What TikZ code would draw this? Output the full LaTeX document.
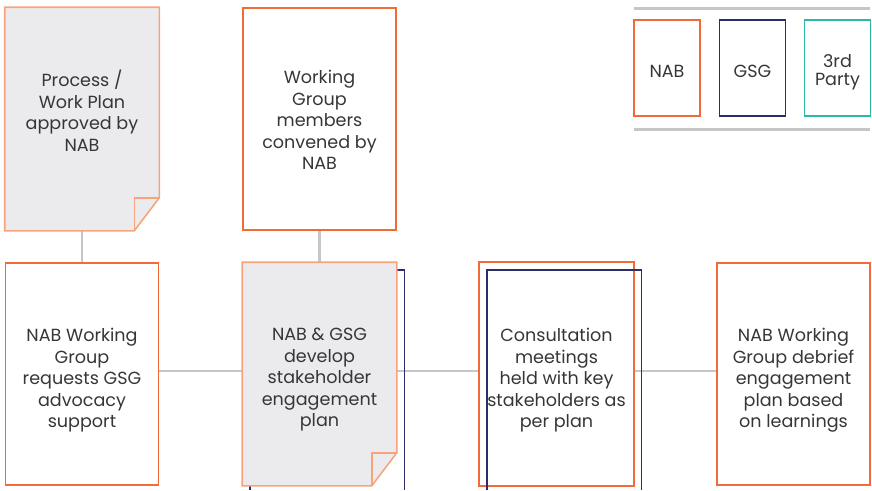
\documentclass[tikz,border=0pt]{standalone}
\usepackage{fontspec}
\setmainfont{Poppins}
\usepackage{tikz}
\usetikzlibrary{calc,positioning}
\definecolor{nabc}{HTML}{F26A35}
\definecolor{nabsoft}{HTML}{F6A47C}
\definecolor{gsgc}{HTML}{2B2E6A}
\definecolor{thirdc}{HTML}{2DB9A5}
\definecolor{pagec}{HTML}{EBEBED}
\definecolor{linkc}{HTML}{C6C6C8}
\definecolor{txtc}{HTML}{363636}
\tikzset{
  step box/.style={rectangle,draw=nabc,line width=0.9pt,minimum width=3.06cm,
    minimum height=4.44cm},
  page/.style={step box,draw=none},
  caption/.style={anchor=north,align=center,text=txtc,font=\fontsize{10}{12.2}\selectfont},
  pageline/.style={draw=nabsoft,line width=0.9pt},
  gsgframe/.style={draw=gsgc,line width=0.9pt},
  link/.style={draw=linkc,line width=1.4pt},
  key/.style={rectangle,line width=0.9pt,minimum width=1.32cm,minimum height=1.92cm},
  keytext/.style={align=center,text=txtc,font=\fontsize{10}{10.4}\selectfont},
}
% page with a folded bottom-right corner
\newcommand{\foldpage}[1]{%
  \fill[pagec] (#1.north west) -- (#1.north east) -- ([yshift=0.66cm]#1.south east)
    -- ([xshift=-0.5cm]#1.south east) -- (#1.south west) -- cycle;
  \draw[pageline] (#1.north west) -- (#1.north east) -- ([yshift=0.66cm]#1.south east)
    -- ([xshift=-0.5cm]#1.south east) -- (#1.south west) -- cycle;
  \draw[pageline] ([xshift=-0.5cm]#1.south east) -- ([xshift=-0.5cm,yshift=0.66cm]#1.south east)
    -- ([yshift=0.66cm]#1.south east);
}
% navy frame sitting behind a step, running off the bottom edge
\newcommand{\gsgback}[1]{%
  \draw[gsgframe] ([xshift=0.15cm]#1.south west |- 0,-9.8) -- ([xshift=0.15cm,yshift=-0.15cm]#1.north west)
    -- ([xshift=0.15cm,yshift=-0.15cm]#1.north east) -- ([xshift=0.15cm]#1.south east |- 0,-9.8);
}

\begin{document}
\begin{tikzpicture}
  \useasboundingbox (0,0) rectangle (17.44,-9.8);

  % top row
  \node[page] (plan) at (1.64,-2.38) {};
  \node[step box] (convene) at (6.39,-2.38) {};

  % bottom row
  \node[step box] (request) at (1.64,-7.48) {};
  \node[page] (develop) at (6.39,-7.48) {};
  \node[step box,draw=none] (consult) at (11.13,-7.48) {};
  \node[step box] (debrief) at (15.87,-7.48) {};

  % connectors
  \draw[link] (plan.south) -- (request.north);
  \draw[link] (convene.south) -- (develop.north);
  \draw[link] ([yshift=0.06cm]request.east) -- ([yshift=0.06cm]develop.west);
  \draw[link] ([yshift=0.06cm]develop.east) -- ([yshift=0.06cm]consult.west);
  \draw[link] ([yshift=0.06cm]consult.east) -- ([yshift=0.06cm]debrief.west);

  \gsgback{develop}
  \foldpage{plan}
  \foldpage{develop}
  \draw[draw=nabc,line width=0.9pt] (consult.north west) rectangle (consult.south east);
  \gsgback{consult}

  % step texts
  \node[caption] (plan-t) at ([yshift=-1.14cm]plan.north) {Process /\\Work Plan\\approved by\\NAB};
  \node[caption] (convene-t) at ([yshift=-1.14cm]convene.north) {Working\\Group\\members\\convened by\\NAB};
  \node[caption] (request-t) at ([yshift=-1.2cm]request.north) {NAB Working\\Group\\requests GSG\\advocacy\\support};
  \node[caption] (develop-t) at ([yshift=-1.2cm]develop.north) {NAB \& GSG\\develop\\stakeholder\\engagement\\plan};
  \node[caption] (consult-t) at ([yshift=-1.2cm]consult.north) {Consultation\\meetings\\held with key\\stakeholders as\\per plan};
  \node[caption] (debrief-t) at ([yshift=-1.2cm]debrief.north) {NAB Working\\Group debrief\\engagement\\plan based\\on learnings};

  % legend
  \node[key,draw=nabc] (keynab) at (13.34,-1.36) {};
  \node[key,draw=gsgc] (keygsg) at (15.05,-1.36) {};
  \node[key,draw=thirdc] (keythird) at (16.75,-1.36) {};
  \node[keytext] (keynab-t) at ([yshift=-0.07cm]keynab.center) {NAB};
  \node[keytext] (keygsg-t) at ([yshift=-0.07cm]keygsg.center) {GSG};
  \node[keytext] (keythird-t) at ([yshift=-0.08cm]keythird.center) {3rd\\Party};
  \draw[link,line width=1.7pt] (12.68,-0.16) -- (17.4,-0.16);
  \draw[link,line width=1.7pt] (12.68,-2.58) -- (17.4,-2.58);
\end{tikzpicture}
\end{document}
